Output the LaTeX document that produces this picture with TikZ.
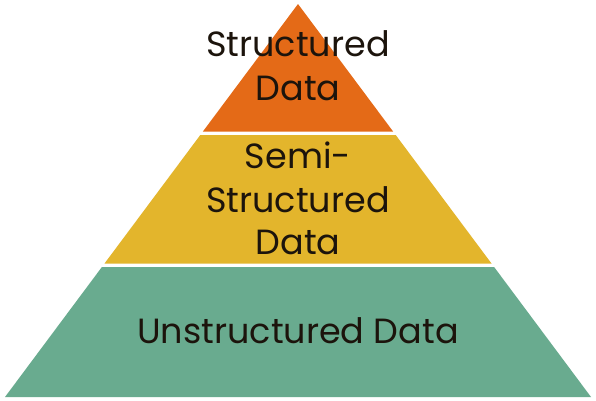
\documentclass[tikz,border=0pt]{standalone}
\usepackage{fontspec}
\setmainfont{Poppins}
\definecolor{layerorange}{HTML}{E46A17}
\definecolor{layeryellow}{HTML}{E3B52C}
\definecolor{layergreen}{HTML}{69AB8F}
\definecolor{inkcol}{HTML}{1C140C}
\begin{document}
\begin{tikzpicture}[x=1pt,y=-1pt,
  lbl/.style={text=inkcol,font=\fontsize{35}{43}\selectfont,inner sep=0pt,anchor=base}]
\useasboundingbox (0,0) rectangle (596,400);
\fill[white] (0,0) rectangle (596,400);
% orange top
\fill[layerorange] (298,4) -- (393.1,131.5) -- (202.9,131.5) -- cycle;
% yellow middle
\fill[layeryellow] (200.3,135) -- (395.7,135) -- (491.5,263.5) -- (104.5,263.5) -- cycle;
% green bottom
\fill[layergreen] (101.9,267) -- (494.1,267) -- (591,397) -- (5,397) -- cycle;
\node[lbl] (top1) at (298,56) {Structured};
\node[lbl] (top2) at (298,100) {Data};
\node[lbl] (mid1) at (298,168) {Semi-};
\node[lbl] (mid2) at (298,212) {Structured};
\node[lbl] (mid3) at (298,254) {Data};
\node[lbl] (bot) at (298,343) {Unstructured Data};
\end{tikzpicture}
\end{document}
